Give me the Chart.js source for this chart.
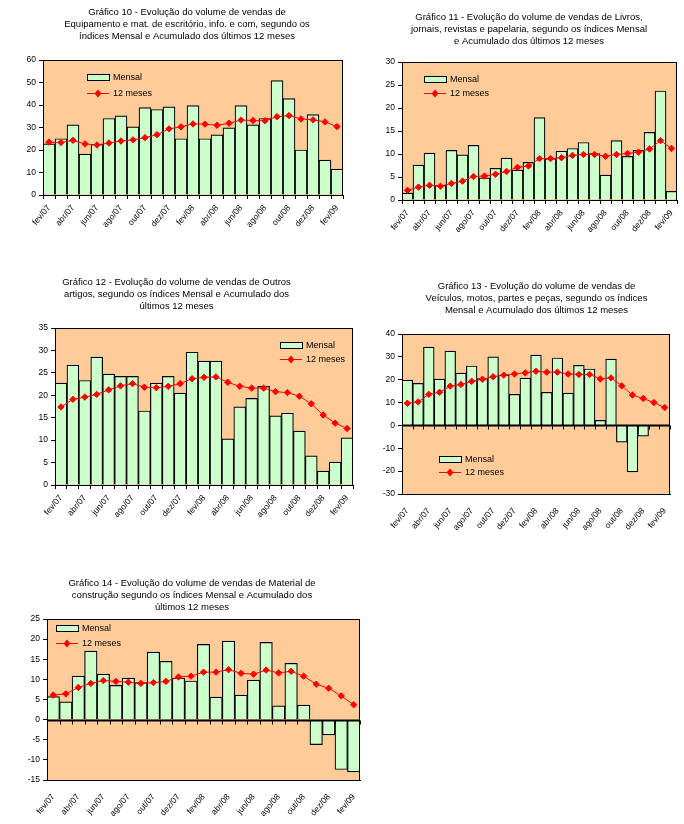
<!DOCTYPE html>
<html>
<head>
<meta charset="utf-8">
<script src="https://cdn.jsdelivr.net/npm/chart.js@4.4.0/dist/chart.umd.min.js"></script>
<style>
body{margin:0;background:#fff;width:684px;height:824px;position:relative;overflow:hidden}
.caixa{position:absolute}
</style>
</head>
<body>
<div class="caixa" style="left:0px;top:0px;width:374px;height:232px"><canvas id="g10"></canvas></div>
<div class="caixa" style="left:350px;top:0px;width:358px;height:232px"><canvas id="g11"></canvas></div>
<div class="caixa" style="left:0px;top:270px;width:360px;height:250px"><canvas id="g12"></canvas></div>
<div class="caixa" style="left:360px;top:270px;width:353px;height:270px"><canvas id="g13"></canvas></div>
<div class="caixa" style="left:0px;top:570px;width:384px;height:254px"><canvas id="g14"></canvas></div>
<script>
var meses = ['fev/07','mar/07','abr/07','mai/07','jun/07','jul/07','ago/07','set/07','out/07','nov/07','dez/07','jan/08',
             'fev/08','mar/08','abr/08','mai/08','jun/08','jul/08','ago/08','set/08','out/08','nov/08','dez/08','jan/09','fev/09'];

// Gráfico 10 - Equipamento e mat. de escritório
var mensal10 = [22.7,25,31.2,18.2,22.5,34,35.2,30.3,38.8,38,39.2,25,39.7,25,26.7,29.8,39.7,31.2,34,50.8,42.8,20,35.7,15.5,11.5];
var acum10   = [23.5,23.3,24.3,22.7,22.2,23.1,24,24.5,25.5,26.8,29.4,30.3,31.6,31.5,31,31.9,33.3,33.1,33,34.8,35.3,33.8,33.4,32.5,30.4];

// Gráfico 11 - Livros, jornais, revistas e papelaria
var mensal11 = [1.5,7.6,10.2,3.2,10.8,9.8,11.9,4.8,6.9,9.1,6.5,8.2,17.9,9,10.6,11.2,12.5,10.1,5.4,12.9,9.5,10.8,14.7,23.7,1.9];
var acum11   = [2.1,2.8,3.2,3.0,3.6,4.1,5.1,5.2,5.6,6.2,7.1,7.4,9.0,9.0,9.2,9.7,9.9,9.9,9.5,9.9,10.1,10.4,11.1,12.9,11.2];

// Gráfico 12 - Outros artigos
var mensal12 = [22.7,26.7,23.3,28.5,24.7,24.2,24.2,16.5,22.7,24.2,20.5,29.6,27.6,27.6,10.3,17.4,19.3,22,15.4,16,12,6.5,3.1,5.1,10.5];
var acum12   = [17.4,19.1,19.6,20.2,21.2,22.1,22.6,21.8,21.7,22.0,22.6,23.7,24.0,24.1,22.9,22.0,21.6,21.6,20.8,20.6,19.8,18.1,15.6,13.8,12.6];

// Gráfico 13 - Veículos, motos, partes e peças
var mensal13 = [19.8,18.4,34.3,20.3,32.5,22.9,26,20.5,30,22,13.6,20.7,30.8,14.5,29.5,14.1,26.3,24.7,2.2,29,-7.3,-20.3,-4.7,0,0];
var acum13   = [9.7,10.3,13.6,14.5,17.2,17.9,19.3,20.2,21.3,22.0,22.5,23.0,23.7,23.3,23.3,22.5,22.3,22.3,20.3,20.8,17.3,13.3,11.8,10.0,7.8];

// Gráfico 14 - Material de construção
var mensal14 = [5.7,4.4,10.8,17,11.3,8.5,10.3,9.2,16.8,14.5,10.3,9.6,18.7,5.6,19.5,6.1,9.8,19.2,3.4,14,3.6,-6.2,-3.8,-12.4,-13];
var acum14   = [6.1,6.4,8.0,9.0,9.7,9.5,9.3,9.0,9.2,9.5,10.6,10.8,11.8,11.8,12.4,11.5,11.3,12.3,11.6,12.0,10.8,8.8,7.8,5.9,3.7];

var fonte = '"Liberation Sans", Arial, sans-serif';

// fundo salmão da área de plotagem, borda, linha do zero e legenda
var pluginArea = {
    id: 'areaExcel',
    beforeDraw: function(chart){
        var a = chart.chartArea, ctx = chart.ctx;
        ctx.save();
        ctx.fillStyle = '#FFCC99';
        ctx.fillRect(a.left, a.top, a.right - a.left, a.bottom - a.top);
        ctx.restore();
    },
    afterDatasetsDraw: function(chart, args, op){
        var a = chart.chartArea, ctx = chart.ctx;
        ctx.save();
        ctx.strokeStyle = '#000';
        ctx.lineWidth = 1;
        ctx.strokeRect(a.left + 0.5, a.top + 0.5, a.right - a.left - 1, a.bottom - a.top);

        if (op.zero) {
            var xs = chart.scales.x, y0 = Math.round(chart.scales.y.getPixelForValue(0)) + 0.5;
            var n = chart.data.labels.length, w = (xs.right - xs.left) / n;
            ctx.lineWidth = 2;
            ctx.beginPath();
            ctx.moveTo(a.left, y0); ctx.lineTo(a.right, y0);
            ctx.stroke();
            ctx.lineWidth = 1;
            for (var i = 0; i <= n; i++) {
                var xt = Math.round(xs.left + i * w) + 0.5;
                ctx.beginPath();
                ctx.moveTo(xt, y0); ctx.lineTo(xt, y0 + 4);
                ctx.stroke();
            }
        }

        // legenda
        var lx = a.left + op.lx, ly = a.top + op.ly;
        ctx.fillStyle = '#CCFFCC';
        ctx.fillRect(lx, ly - 3, 22, 6);
        ctx.strokeRect(lx + 0.5, ly - 2.5, 22, 6);
        ctx.fillStyle = '#000';
        ctx.font = '9px ' + fonte;
        ctx.textBaseline = 'middle';
        ctx.fillText('Mensal', lx + 26, ly + 0.5);
        var ly2 = ly + op.esp;
        ctx.strokeStyle = '#FF0000';
        ctx.beginPath();
        ctx.moveTo(lx, ly2 + 0.5); ctx.lineTo(lx + 22, ly2 + 0.5);
        ctx.stroke();
        ctx.fillStyle = '#FF0000';
        ctx.beginPath();
        ctx.moveTo(lx + 11, ly2 - 3.5); ctx.lineTo(lx + 14.5, ly2 + 0.5);
        ctx.lineTo(lx + 11, ly2 + 4.5); ctx.lineTo(lx + 7.5, ly2 + 0.5);
        ctx.closePath(); ctx.fill();
        ctx.fillStyle = '#000';
        ctx.fillText('12 meses', lx + 26, ly2 + 0.5);
        ctx.restore();
    }
};

function criarGrafico(id, titulo, mensal, acum, ymin, ymax, passo, c){
    var ctx = document.getElementById(id).getContext('2d');
    return new Chart(ctx, {
        type: 'bar',
        data: {
            labels: meses,
            datasets: [{
                type: 'line',
                label: '12 meses',
                data: acum,
                borderColor: '#FF0000',
                borderWidth: 1,
                pointStyle: 'rectRot',
                pointRadius: 3.2,
                pointBackgroundColor: '#FF0000',
                pointBorderColor: '#FF0000',
                pointBorderWidth: 1,
                tension: 0,
                order: 1
            }, {
                label: 'Mensal',
                data: mensal,
                backgroundColor: '#CCFFCC',
                borderColor: '#000',
                borderWidth: 1.2,
                barPercentage: 1,
                categoryPercentage: 1,
                order: 2
            }]
        },
        options: {
            responsive: true,
            maintainAspectRatio: false,
            animation: false,
            layout: { padding: { left: 0, right: c.dir, top: 0, bottom: 0 } },
            plugins: {
                legend: { display: false },
                tooltip: { enabled: false },
                title: {
                    display: true,
                    text: titulo,
                    color: '#000',
                    font: { family: fonte, size: 9.5, weight: 'normal', lineHeight: 12 / 9.5 },
                    padding: { top: c.tt, bottom: c.tb }
                },
                areaExcel: { zero: c.zero, lx: c.lx, ly: c.ly, esp: c.esp }
            },
            scales: {
                x: {
                    offset: true,
                    afterFit: function(s){ s.height = c.xh; },
                    grid: { display: !c.zero, offset: true, drawOnChartArea: false, drawTicks: true, tickLength: 4, color: '#000' },
                    border: { display: true, color: '#000' },
                    ticks: {
                        autoSkip: false,
                        minRotation: 50, maxRotation: 50,
                        padding: c.zero ? 8 : 4,
                        color: '#000',
                        font: { family: fonte, size: 8.5 },
                        callback: function(v, i){ return i % 2 === 0 ? this.getLabelForValue(v) : ''; }
                    }
                },
                y: {
                    min: ymin, max: ymax,
                    afterFit: function(s){ s.width = c.yw; },
                    grid: { display: true, drawOnChartArea: false, drawTicks: true, tickLength: 4, color: '#000' },
                    border: { display: true, color: '#000' },
                    ticks: { stepSize: passo, color: '#000', padding: 3, font: { family: fonte, size: 8.5 } }
                },
                // eixo vazio à direita, só para centralizar o título como no original
                folga: {
                    type: 'linear',
                    position: 'right',
                    display: c.y2w > 0,
                    afterFit: function(s){ s.width = c.y2w; },
                    grid: { display: false },
                    border: { display: false },
                    ticks: { display: false }
                }
            }
        },
        plugins: [pluginArea]
    });
}

criarGrafico('g10', ['Gráfico 10 - Evolução do volume de vendas de', 'Equipamento e mat. de escritório, info. e com, segundo os', 'índices Mensal e Acumulado dos últimos 12 meses'],
    mensal10, acum10, 0, 60, 10, { dir: 0, tt: 6, tb: 18, xh: 37, yw: 43, y2w: 31, zero: false, lx: 44, ly: 17, esp: 16 });

criarGrafico('g11', ['Gráfico 11 - Evolução do volume de vendas de Livros,', 'jornais, revistas e papelaria, segundo os índices Mensal', 'e Acumulado dos últimos 12 meses'],
    mensal11, acum11, 0, 30, 5, { dir: 0, tt: 11, tb: 15, xh: 32, yw: 52, y2w: 31, zero: false, lx: 22, ly: 17, esp: 14 });

criarGrafico('g12', ['Gráfico 12 - Evolução do volume de vendas de Outros', 'artigos, segundo os índices Mensal e Acumulado dos', 'últimos 12 meses'],
    mensal12, acum12, 0, 35, 5, { dir: 7, tt: 6, tb: 16, xh: 35, yw: 55, y2w: 0, zero: false, lx: 225, ly: 17, esp: 14 });

criarGrafico('g13', ['Gráfico 13 - Evolução do volume de vendas de', 'Veículos, motos, partes e peças, segundo os índices', 'Mensal e Acumulado dos últimos 12 meses'],
    mensal13, acum13, -30, 40, 10, { dir: 0, tt: 10, tb: 18, xh: 46, yw: 42, y2w: 43, zero: true, lx: 37, ly: 125, esp: 13 });

criarGrafico('g14', ['Gráfico 14 - Evolução do volume de vendas de Material de', 'construção segundo os índices Mensal e Acumulado dos', 'últimos 12 meses'],
    mensal14, acum14, -15, 25, 5, { dir: 0, tt: 7, tb: 6, xh: 44, yw: 47, y2w: 24, zero: true, lx: 9, ly: 9, esp: 15 });
</script>
</body>
</html>
